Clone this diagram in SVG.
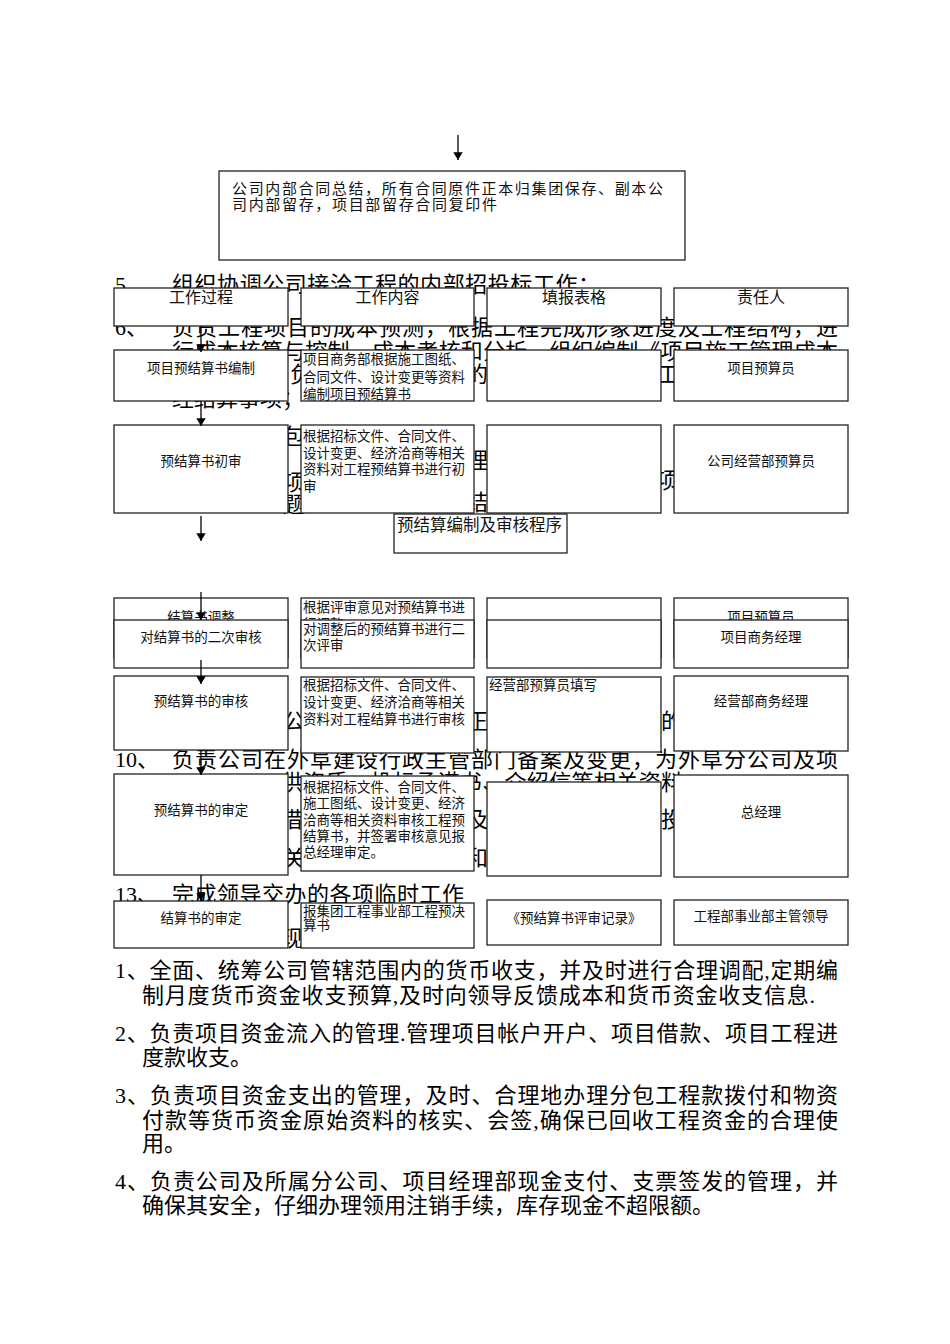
<svg xmlns="http://www.w3.org/2000/svg" width="950" height="1344" viewBox="0 0 950 1344">
<style>
.bg{font-family:"Liberation Serif","Noto Sans CJK SC",serif;font-size:22px;fill:#000}
.c{font-family:"Liberation Sans","Noto Sans CJK SC",sans-serif;font-size:13.5px;fill:#111}
.cm{text-anchor:middle}
.h{font-size:16px}
.box{fill:#fff;stroke:#222;stroke-width:1.3}
.ar{stroke:#000;stroke-width:1.3;fill:none;marker-end:url(#ah)}
</style>
<defs>
<marker id="ah" viewBox="0 0 10 14" refX="10" refY="7" markerWidth="8" markerHeight="11" markerUnits="userSpaceOnUse" orient="auto">
<path d="M0,1 L10,7 L0,13 Z" fill="#000"/>
</marker>
</defs>
<rect width="950" height="1344" fill="#fff"/>

<g id="background-text">
<text class="bg" x="115" y="292">5、</text>
<text class="bg" x="172" y="292" textLength="428" lengthAdjust="spacing">组织协调公司接洽工程的内部招投标工作；</text>
<text class="bg" x="115" y="335">6、</text>
<text class="bg" x="172" y="335" textLength="666" lengthAdjust="spacing">负责工程项目的成本预测，根据工程完成形象进度及工程结构，进</text>
<text class="bg" x="172" y="359" textLength="666" lengthAdjust="spacing">行成本核算与控制、成本考核和分析，组织编制《项目施工管理成本</text>
<text class="bg" x="290" y="382">负</text>
<text class="bg" x="466" y="382">的</text>
<text class="bg" x="657" y="382">工</text>
<text class="bg" x="172" y="406">经结算事项；</text>
<text class="bg" x="283" y="444">包</text>
<text class="bg" x="466" y="468">理</text>
<text class="bg" x="283" y="490">项</text>
<text class="bg" x="656" y="488">项</text>
<text class="bg" x="283" y="512">题</text>
<text class="bg" x="466" y="510">结</text>
<text class="bg" x="283" y="729">公</text>
<text class="bg" x="466" y="729">正</text>
<text class="bg" x="661" y="729">的</text>
<text class="bg" x="115" y="767">10、</text>
<text class="bg" x="172" y="767" textLength="666" lengthAdjust="spacing">负责公司在外阜建设行政主管部门备案及变更，为外阜分公司及项</text>
<text class="bg" x="281" y="790" textLength="402" lengthAdjust="spacing">供资质、投标承诺书、介绍信等相关资料</text>
<text class="bg" x="281" y="827">借</text>
<text class="bg" x="466" y="827">及</text>
<text class="bg" x="661" y="827">投</text>
<text class="bg" x="283" y="866">关</text>
<text class="bg" x="466" y="866">和</text>
<text class="bg" x="115" y="902">13、</text>
<text class="bg" x="172" y="902" textLength="292" lengthAdjust="spacing">完成领导交办的各项临时工作</text>
<text class="bg" x="281" y="946">现</text>
</g>

<g id="list-text">
<text class="bg" x="115" y="978" textLength="723" lengthAdjust="spacing">1、全面、统筹公司管辖范围内的货币收支，并及时进行合理调配,定期编</text>
<text class="bg" x="142" y="1003" textLength="673" lengthAdjust="spacing">制月度货币资金收支预算,及时向领导反馈成本和货币资金收支信息.</text>
<text class="bg" x="115" y="1041" textLength="723" lengthAdjust="spacing">2、负责项目资金流入的管理.管理项目帐户开户、项目借款、项目工程进</text>
<text class="bg" x="142" y="1065">度款收支。</text>
<text class="bg" x="115" y="1103" textLength="723" lengthAdjust="spacing">3、负责项目资金支出的管理，及时、合理地办理分包工程款拨付和物资</text>
<text class="bg" x="142" y="1128" textLength="696" lengthAdjust="spacing">付款等货币资金原始资料的核实、会签,确保已回收工程资金的合理使</text>
<text class="bg" x="142" y="1151">用。</text>
<text class="bg" x="115" y="1189" textLength="723" lengthAdjust="spacing">4、负责公司及所属分公司、项目经理部现金支付、支票签发的管理，并</text>
<text class="bg" x="142" y="1213">确保其安全，仔细办理领用注销手续，库存现金不超限额。</text>
</g>

<g id="node-summary">
<rect class="box" x="219" y="171" width="466" height="89"/>
<text class="c" x="232" y="194" style="font-size:15px" textLength="431" lengthAdjust="spacing">公司内部合同总结，所有合同原件正本归集团保存、副本公</text>
<text class="c" x="232" y="210" style="font-size:15px" textLength="265" lengthAdjust="spacing">司内部留存，项目部留存合同复印件</text>
</g>

<g id="node-header">
<rect class="box" x="114" y="288" width="174" height="38"/>
<rect class="box" x="301" y="288" width="173" height="38"/>
<rect class="box" x="487" y="288" width="174" height="38"/>
<rect class="box" x="674" y="288" width="174" height="38"/>
<text class="c h cm" x="201" y="303">工作过程</text>
<text class="c h cm" x="387.5" y="303">工作内容</text>
<text class="c h cm" x="574" y="303">填报表格</text>
<text class="c h cm" x="761" y="303">责任人</text>
</g>

<g id="node-row1">
<rect class="box" x="114" y="350" width="174" height="51"/>
<rect class="box" x="301" y="350" width="173" height="51"/>
<rect class="box" x="487" y="350" width="174" height="51"/>
<rect class="box" x="674" y="350" width="174" height="51"/>
<text class="c cm" x="201" y="373">项目预结算书编制</text>
<text class="c" x="303" y="364">项目商务部根据施工图纸、</text>
<text class="c" x="303" y="381.5">合同文件、设计变更等资料</text>
<text class="c" x="303" y="399">编制项目预结算书</text>
<text class="c cm" x="761" y="373">项目预算员</text>
</g>

<g id="node-row2">
<rect class="box" x="114" y="425" width="174" height="88"/>
<rect class="box" x="301" y="425" width="173" height="88"/>
<rect class="box" x="487" y="425" width="174" height="88"/>
<rect class="box" x="674" y="425" width="174" height="88"/>
<text class="c cm" x="201" y="466">预结算书初审</text>
<text class="c" x="303" y="441">根据招标文件、合同文件、</text>
<text class="c" x="303" y="457.5">设计变更、经济洽商等相关</text>
<text class="c" x="303" y="474">资料对工程预结算书进行初</text>
<text class="c" x="303" y="490.5">审</text>
<text class="c cm" x="761" y="466">公司经营部预算员</text>
</g>

<g id="node-title">
<rect class="box" x="394" y="514" width="173" height="39"/>
<text class="c" x="397" y="531" style="font-size:16.5px">预结算编制及审核程序</text>
</g>

<g id="node-row3">
<rect class="box" x="114" y="598" width="174" height="60"/>
<rect class="box" x="301" y="598" width="173" height="60"/>
<rect class="box" x="487" y="598" width="174" height="60"/>
<rect class="box" x="674" y="598" width="174" height="60"/>
<text class="c cm" x="201" y="622">结算书调整</text>
<text class="c" x="303" y="612">根据评审意见对预结算书进</text>
<text class="c" x="303" y="629">行调整</text>
<text class="c cm" x="761" y="622">项目预算员</text>
</g>

<g id="node-row4">
<rect class="box" x="114" y="620" width="174" height="48"/>
<rect class="box" x="301" y="620" width="173" height="48"/>
<rect class="box" x="487" y="620" width="174" height="48"/>
<rect class="box" x="674" y="620" width="174" height="48"/>
<text class="c cm" x="201" y="642">对结算书的二次审核</text>
<text class="c" x="303" y="634">对调整后的预结算书进行二</text>
<text class="c" x="303" y="650">次评审</text>
<text class="c cm" x="761" y="642">项目商务经理</text>
</g>

<g id="node-row5">
<rect class="box" x="114" y="676" width="174" height="74"/>
<rect class="box" x="301" y="677" width="173" height="76"/>
<rect class="box" x="487" y="677" width="174" height="75"/>
<rect class="box" x="674" y="676" width="174" height="75"/>
<text class="c cm" x="201" y="706">预结算书的审核</text>
<text class="c" x="303" y="690">根据招标文件、合同文件、</text>
<text class="c" x="303" y="707">设计变更、经济洽商等相关</text>
<text class="c" x="303" y="724">资料对工程结算书进行审核</text>
<text class="c" x="489" y="690">经营部预算员填写</text>
<text class="c cm" x="761" y="706">经营部商务经理</text>
</g>

<g id="node-row6">
<rect class="box" x="114" y="774" width="174" height="101"/>
<rect class="box" x="301" y="776" width="173" height="95"/>
<rect class="box" x="487" y="782" width="174" height="94"/>
<rect class="box" x="674" y="775" width="174" height="102"/>
<text class="c cm" x="201" y="815">预结算书的审定</text>
<text class="c" x="303" y="792">根据招标文件、合同文件、</text>
<text class="c" x="303" y="808.3">施工图纸、设计变更、经济</text>
<text class="c" x="303" y="824.6">洽商等相关资料审核工程预</text>
<text class="c" x="303" y="841">结算书，并签署审核意见报</text>
<text class="c" x="303" y="857.3">总经理审定。</text>
<text class="c cm" x="761" y="817">总经理</text>
</g>

<g id="node-row7">
<rect class="box" x="114" y="901" width="174" height="47"/>
<rect class="box" x="301" y="903" width="173" height="45"/>
<rect class="box" x="487" y="900" width="174" height="45"/>
<rect class="box" x="674" y="900" width="174" height="45"/>
<text class="c cm" x="201" y="923">结算书的审定</text>
<text class="c" x="303" y="916">报集团工程事业部工程预决</text>
<text class="c" x="303" y="930">算书</text>
<text class="c cm" x="574" y="923">《预结算书评审记录》</text>
<text class="c cm" x="761" y="921">工程部事业部主管领导</text>
</g>

<g id="connectors">
<line class="ar" x1="458" y1="135" x2="458" y2="160"/>
<line class="ar" x1="201" y1="326" x2="201" y2="352"/>
<line class="ar" x1="201" y1="401" x2="201" y2="426"/>
<line class="ar" x1="201" y1="516" x2="201" y2="541"/>
<line class="ar" x1="201" y1="592" x2="201" y2="620"/>
<line class="ar" x1="201" y1="660" x2="201" y2="684"/>
<line class="ar" x1="201" y1="750" x2="201" y2="775"/>
<line class="ar" x1="201" y1="875" x2="201" y2="901"/>
</g>
</svg>
